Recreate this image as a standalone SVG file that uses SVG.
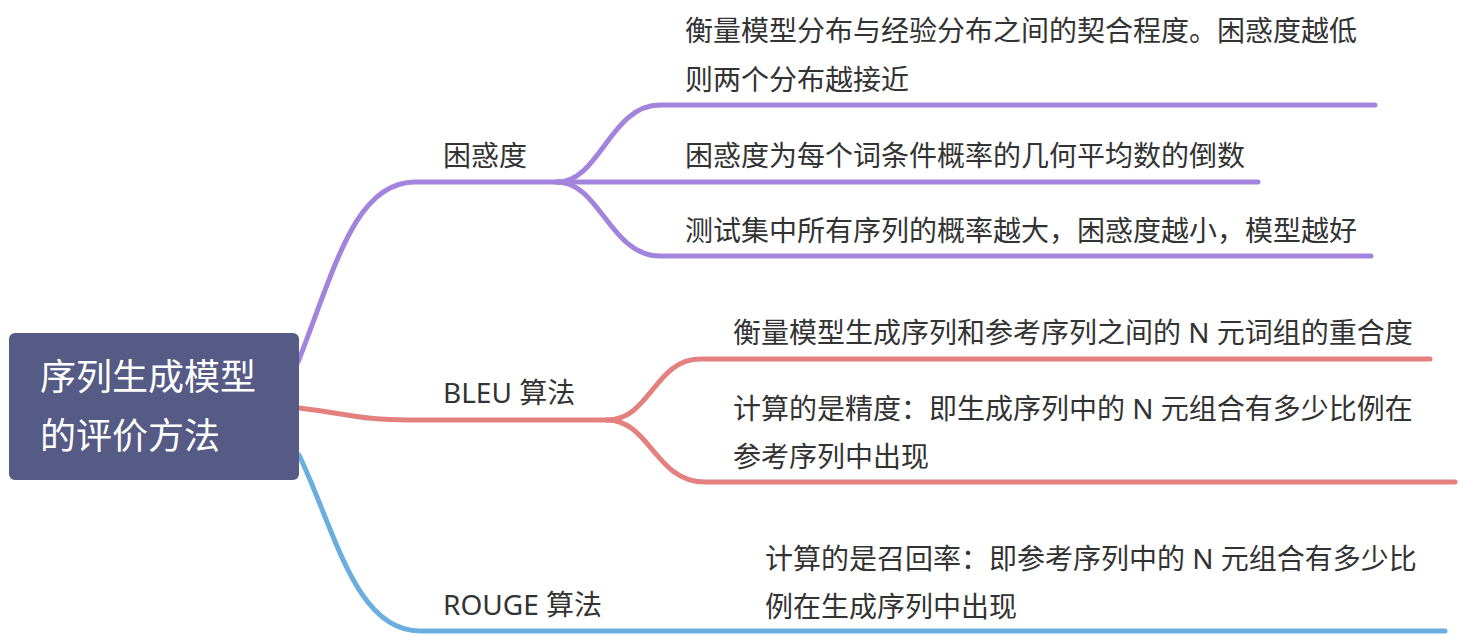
<svg xmlns="http://www.w3.org/2000/svg" width="1464" height="636" viewBox="0 0 1464 636">
<style>
.t{font-family:"Noto Sans","Noto Sans CJK SC",sans-serif;font-size:28px;fill:#333333}
.r{font-family:"Noto Sans","Noto Sans CJK SC",sans-serif;font-size:36px;fill:#ffffff}
.c{fill:none;stroke-width:5;stroke-linecap:round}
.p{stroke:#a384dc}
.d{stroke:#e4807f}
.b{stroke:#6aaee0}
</style>
<rect width="1464" height="636" fill="#ffffff"/>
<g id="connectors">
<path class="c p" d="M298 362 C335 268 355 182 415 182 L557 182"/>
<path class="c p" d="M557 182 C600 182 610 105 660 105 L1375 105"/>
<path class="c p" d="M557 182 L1258 182"/>
<path class="c p" d="M557 182 C600 182 610 256 660 256 L1371 256"/>
<path class="c d" d="M299 408 C350 414 360 420 410 420 L607 420"/>
<path class="c d" d="M607 420 C650 420 655 359 700 359 L1430 359"/>
<path class="c d" d="M607 420 C650 420 655 482 705 482 L1455 482"/>
<path class="c b" d="M299 455 C335 530 355 631 420 631 L1445 631"/>
</g>
<g id="root">
<rect x="9" y="333" width="290" height="147" rx="6" fill="#565b85"/>
<text class="r" x="40" y="390">序列生成模型</text>
<text class="r" x="40" y="449">的评价方法</text>
</g>
<g id="n-ppl"><text class="t" x="443" y="166">困惑度</text></g>
<g id="n-ppl-1">
<text class="t" x="685" y="41">衡量模型分布与经验分布之间的契合程度。困惑度越低</text>
<text class="t" x="685" y="90">则两个分布越接近</text>
</g>
<g id="n-ppl-2"><text class="t" x="685" y="166">困惑度为每个词条件概率的几何平均数的倒数</text></g>
<g id="n-ppl-3"><text class="t" x="685" y="241">测试集中所有序列的概率越大，困惑度越小，模型越好</text></g>
<g id="n-bleu"><text class="t" x="443" y="403">BLEU 算法</text></g>
<g id="n-bleu-1"><text class="t" x="733" y="343">衡量模型生成序列和参考序列之间的 N 元词组的重合度</text></g>
<g id="n-bleu-2">
<text class="t" x="733" y="419">计算的是精度：即生成序列中的 N 元组合有多少比例在</text>
<text class="t" x="733" y="467">参考序列中出现</text>
</g>
<g id="n-rouge"><text class="t" x="443" y="615">ROUGE 算法</text></g>
<g id="n-rouge-1">
<text class="t" x="765" y="569">计算的是召回率：即参考序列中的 N 元组合有多少比</text>
<text class="t" x="765" y="617">例在生成序列中出现</text>
</g>
</svg>
